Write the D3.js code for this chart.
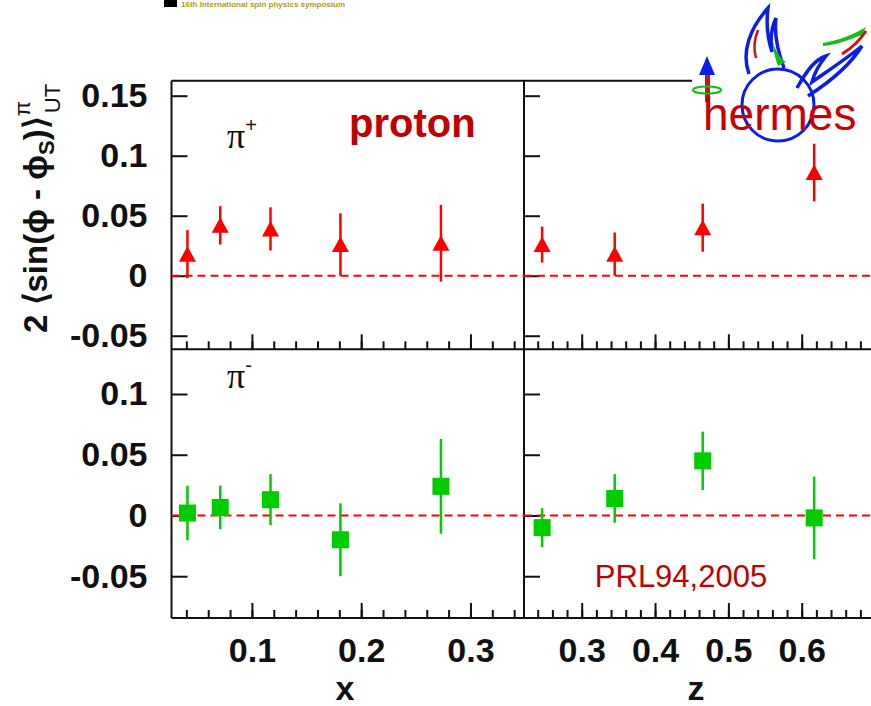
<!DOCTYPE html>
<html>
<head>
<meta charset="utf-8">
<script src="https://cdn.jsdelivr.net/npm/d3@7"></script>
<style>
body { margin: 0; background: #fff; }
svg { display: block; font-family: "Liberation Sans", Arial, Helvetica, sans-serif; }
.tick text { font-weight: bold; font-size: 34px; fill: #111; }
</style>
</head>
<body>
<script>
// Sivers-type asymmetry, HERMES proton target (PRL 94, 2005)
var xBins = [0.041, 0.071, 0.117, 0.181, 0.273];
var zBins = [0.246, 0.345, 0.465, 0.617];

var piPlusX = [0.018, 0.042, 0.039, 0.026, 0.027];
var piPlusXErr = [0.020, 0.016, 0.018, 0.026, 0.032];
var piMinusX = [0.002, 0.0066, 0.013, -0.020, 0.024];
var piMinusXErr = [0.0225, 0.018, 0.021, 0.030, 0.039];

var piPlusZ = [0.026, 0.018, 0.040, 0.086];
var piPlusZErr = [0.015, 0.018, 0.020, 0.024];
var piMinusZ = [-0.010, 0.014, 0.045, -0.002];
var piMinusZErr = [0.016, 0.020, 0.024, 0.034];

var xTicks = [0.1, 0.2, 0.3];
var xTickLabels = ['0.1', '0.2', '0.3'];
var zTicks = [0.3, 0.4, 0.5, 0.6];
var zTickLabels = ['0.3', '0.4', '0.5', '0.6'];
var yTicksTop = [-0.05, 0, 0.05, 0.1, 0.15];
var yTickLabelsTop = ['-0.05', '0', '0.05', '0.1', '0.15'];
var yTicksBot = [-0.05, 0, 0.05, 0.1];
var yTickLabelsBot = ['-0.05', '0', '0.05', '0.1'];

var W = 871, H = 706;
var svg = d3.select('body').append('svg').attr('width', W).attr('height', H);

// frame edges (window.top is reserved, hence the prefixes)
var fLeft = 171.5, fMid = 524, fRight = 871;
var fTop = 80.7, fSplit = 349.3, fBottom = 618;

var xL = d3.scaleLinear().domain([0.0264, 0.349]).range([fLeft, fMid]);
var xR = d3.scaleLinear().domain([0.2213, 0.6945]).range([fMid, fRight]);
var yT = d3.scaleLinear().domain([-0.0613, 0.1625]).range([fSplit, fTop]);
var yB = d3.scaleLinear().domain([-0.0844, 0.1368]).range([fBottom, fSplit]);

var red = '#ff0000', green = '#00cc00', darkred = '#c00000';

// header remnant of the slide
svg.append('rect').attr('x', 164).attr('y', 0).attr('width', 13).attr('height', 7).attr('fill', '#000');
svg.append('text').attr('x', 181).attr('y', 7).attr('font-size', 8).attr('font-weight', 'bold')
  .attr('fill', '#b09a20').text('16th International spin physics symposium');

// axes
function bottomAxis(xs, yPos, major, labels, minorCount) {
  svg.append('g').attr('transform', `translate(0,${yPos})`)
    .call(d3.axisBottom(xs).tickValues(xs.ticks(minorCount)).tickSize(-8).tickFormat(''))
    .call(g => g.select('.domain').remove());
  svg.append('g').attr('transform', `translate(0,${yPos})`)
    .call(d3.axisBottom(xs).tickValues(major).tickSize(-15).tickPadding(20)
      .tickFormat(labels ? (d, i) => labels[i] : ''))
    .call(g => g.select('.domain').remove());
}
function leftAxis(ys, xPos, vals, labels) {
  svg.append('g').attr('transform', `translate(${xPos},0)`)
    .call(d3.axisLeft(ys).tickValues(vals).tickSize(-16).tickPadding(24)
      .tickFormat(labels ? (d, i) => labels[i] : ''))
    .call(g => g.select('.domain').remove());
}
bottomAxis(xL, fSplit, xTicks, null, 16);
bottomAxis(xR, fSplit, zTicks, null, 24);
bottomAxis(xL, fBottom, xTicks, xTickLabels, 16);
bottomAxis(xR, fBottom, zTicks, zTickLabels, 24);
leftAxis(yT, fLeft, yTicksTop, yTickLabelsTop);
leftAxis(yB, fLeft, yTicksBot, yTickLabelsBot);
leftAxis(yT, fMid, yTicksTop, null);
leftAxis(yB, fMid, yTicksBot, null);
svg.selectAll('.tick line').attr('stroke', '#111').attr('stroke-width', 2);

// frame
var frame = [[fLeft, fTop, fRight, fTop], [fLeft, fSplit, fRight, fSplit], [fLeft, fBottom, fRight, fBottom],
             [fLeft, fTop, fLeft, fBottom], [fMid, fTop, fMid, fBottom]];
svg.append('g').selectAll('line').data(frame).enter().append('line')
  .attr('x1', d => d[0]).attr('y1', d => d[1]).attr('x2', d => d[2]).attr('y2', d => d[3])
  .attr('stroke', '#111').attr('stroke-width', 2);

// panels
var panels = [
  {xs: xL, ys: yT, bins: xBins, v: piPlusX, e: piPlusXErr, shape: 'tri', col: red},
  {xs: xR, ys: yT, bins: zBins, v: piPlusZ, e: piPlusZErr, shape: 'tri', col: red},
  {xs: xL, ys: yB, bins: xBins, v: piMinusX, e: piMinusXErr, shape: 'sq', col: green},
  {xs: xR, ys: yB, bins: zBins, v: piMinusZ, e: piMinusZErr, shape: 'sq', col: green}
];
panels.forEach(function(p) {
  var g = svg.append('g');
  g.append('line')
    .attr('x1', p.xs.range()[0]).attr('x2', p.xs.range()[1])
    .attr('y1', p.ys(0)).attr('y2', p.ys(0))
    .attr('stroke', red).attr('stroke-width', 2).attr('stroke-dasharray', '8,5');
  var pts = p.bins.map((b, i) => ({x: b, y: p.v[i], e: p.e[i]}));
  g.selectAll('.err').data(pts).enter().append('line').attr('class', 'err')
    .attr('x1', d => p.xs(d.x)).attr('x2', d => p.xs(d.x))
    .attr('y1', d => p.ys(d.y - d.e)).attr('y2', d => p.ys(d.y + d.e))
    .attr('stroke', p.col).attr('stroke-width', 2.5);
  if (p.shape === 'tri') {
    g.selectAll('.mk').data(pts).enter().append('path').attr('class', 'mk')
      .attr('d', 'M0,-8L8.5,7.5L-8.5,7.5Z')
      .attr('transform', d => `translate(${p.xs(d.x)},${p.ys(d.y)})`)
      .attr('fill', p.col);
  } else {
    g.selectAll('.mk').data(pts).enter().append('rect').attr('class', 'mk')
      .attr('x', d => p.xs(d.x) - 8.5).attr('y', d => p.ys(d.y) - 8.5)
      .attr('width', 17).attr('height', 17).attr('fill', p.col);
  }
});

// labels inside panels
function piLabel(x, y, sign) {
  var t = svg.append('text').attr('x', x).attr('y', y)
    .attr('font-family', '"Liberation Serif", "Times New Roman", serif').attr('font-size', 36).attr('fill', '#111');
  t.append('tspan').text('\u03c0');
  t.append('tspan').attr('dy', -16).attr('font-size', 20)
    .attr('font-family', '"Liberation Sans", Arial, sans-serif').text(sign);
}
piLabel(227, 148, '+');
piLabel(227, 388, '-');

svg.append('text').attr('x', 349).attr('y', 137).attr('font-size', 40).attr('font-weight', 'bold')
  .attr('fill', darkred).text('proton');
svg.append('text').attr('x', 681).attr('y', 587).attr('text-anchor', 'middle').attr('font-size', 31)
  .attr('fill', darkred).text('PRL94,2005');

// axis titles
svg.append('text').attr('x', 345).attr('y', 700).attr('text-anchor', 'middle')
  .attr('font-size', 34).attr('font-weight', 'bold').attr('fill', '#111').text('x');
svg.append('text').attr('x', 696).attr('y', 700).attr('text-anchor', 'middle')
  .attr('font-size', 34).attr('font-weight', 'bold').attr('fill', '#111').text('z');

var yt = svg.append('text').attr('transform', 'translate(47,333) rotate(-90)')
  .attr('font-size', 33).attr('font-weight', 'bold').attr('fill', '#111');
yt.append('tspan').text('2 \u27e8sin(\u03d5 - \u03d5');
yt.append('tspan').attr('dy', 7).attr('font-size', 22).text('S');
yt.append('tspan').attr('dy', -7).text(')\u27e9');
yt.append('tspan').attr('dy', -17).attr('font-size', 22).attr('font-weight', 'normal').text('\u03c0');
yt.append('tspan').attr('dx', -12).attr('dy', 30).attr('font-size', 22).attr('font-weight', 'normal').text('UT');

// hermes logo
var logo = svg.append('g');
logo.append('rect').attr('x', 692).attr('y', 0).attr('width', 179).attr('height', 84).attr('fill', '#fff');
logo.append('circle').attr('cx', 778).attr('cy', 105).attr('r', 36)
  .attr('fill', 'none').attr('stroke', '#0a1ee6').attr('stroke-width', 3);
logo.append('path').attr('d', 'M749,74 C741,52 750,28 768,8 C766,24 768,40 772,52 C770,38 772,26 776,18 C774,34 778,52 784,68')
  .attr('fill', 'none').attr('stroke', '#0a1ee6').attr('stroke-width', 3.5);
logo.append('path').attr('d', 'M773,42 C776,52 780,58 786,62 L778,66 C775,58 773,50 773,42 Z').attr('fill', '#10c010');
logo.append('path').attr('d', 'M758,30 C754,40 753,48 756,58').attr('fill', 'none').attr('stroke', '#d01010').attr('stroke-width', 2.5);
logo.append('path').attr('d', 'M797,88 C806,72 814,60 826,56 C818,66 814,74 812,82 C826,72 842,62 862,46 C852,62 836,78 808,96')
  .attr('fill', 'none').attr('stroke', '#0a1ee6').attr('stroke-width', 3.5);
logo.append('path').attr('d', 'M823,43 C840,40 855,34 866,27 L862,35 C848,40 836,45 823,46 Z').attr('fill', '#10c010');
logo.append('path').attr('d', 'M842,54 C852,48 860,40 866,31').attr('fill', 'none').attr('stroke', '#d01010').attr('stroke-width', 3);
logo.append('rect').attr('x', 705).attr('y', 72).attr('width', 5).attr('height', 30).attr('fill', '#d01010');
logo.append('path').attr('d', 'M707,56 L715,75 L699,75 Z').attr('fill', '#0a1ee6');
logo.append('ellipse').attr('cx', 707).attr('cy', 90).attr('rx', 14).attr('ry', 3.5)
  .attr('fill', 'none').attr('stroke', '#10c010').attr('stroke-width', 2);
logo.append('text').attr('x', 703).attr('y', 130).attr('font-size', 46).attr('fill', '#cc0000').text('hermes');
</script>
</body>
</html>
